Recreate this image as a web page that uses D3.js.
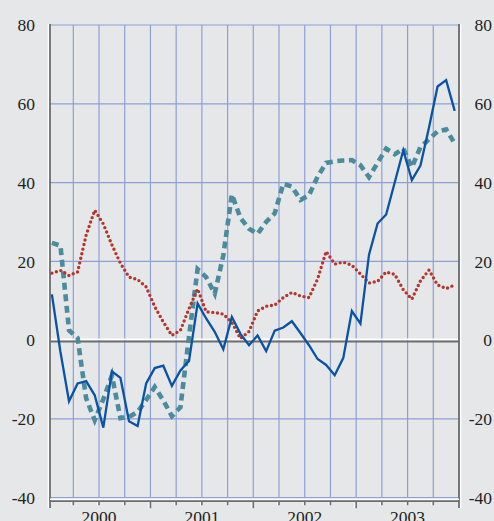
<!DOCTYPE html>
<html>
<head>
<meta charset="utf-8">
<script src="https://cdn.jsdelivr.net/npm/d3@7"></script>
<style>
  html, body { margin: 0; padding: 0; background: #e6e7e9; }
  svg { display: block; }
  text { font-family: "Liberation Serif", "DejaVu Serif", serif; fill: #231f20; }
</style>
</head>
<body>
<svg id="chart" width="494" height="521"></svg>
<script>
// ---- data (monthly, Jan 2000 .. Dec 2003) ----
const years = ["2000", "2001", "2002", "2003"];
const yTicks = [-40, -20, 0, 20, 40, 60, 80];

const blueSeries = [11.6, -3, -15.5, -11.0, -10.4, -14.0, -22.2, -7.9, -9.6, -20.6, -21.8, -11.0,
  -7.1, -6.5, -11.6, -7.7, -5.3, 9.3, 5.5, 2.1, -2.3, 5.9, 1.6, -1.3,
  1.2, -2.8, 2.4, 3.2, 4.8, 1.8, -1.3, -4.8, -6.3, -8.9, -4.5, 7.4,
  4.2, 21.7, 29.6, 31.9, 40, 48.2, 40.6, 44.3, 54, 64.4, 66, 58.2];

const tealSeries = [24.7, 24, 2.5, 0.5, -14.8, -20.3, -15, -9, -19.8, -19.5, -18.2, -15.2,
  -11.9, -15.3, -19.3, -17, 1, 18, 16, 11.8, 21.5, 37, 31, 28.3,
  27, 30, 32.2, 39.7, 39, 35.6, 36.8, 41.5, 45, 45.4, 45.6, 45.7,
  44.4, 41.4, 45, 48.6, 47.2, 48.6, 43.9, 49, 51, 53, 53.5, 49.9];

const redSeries = [17, 17.7, 16.4, 17.3, 26.7, 33, 29.5, 24.2, 19.5, 16, 15.4, 13.5,
  8.5, 4.6, 1.2, 2.5, 8, 13, 7.2, 7, 6.6, 4.5, 0.4, 2.2,
  7.4, 8.6, 8.9, 10.8, 12.1, 11.2, 10.8, 15.5, 22.5, 19.3, 19.8, 19,
  16.8, 14.5, 14.9, 17.3, 16.7, 12.8, 10.4, 15, 17.8, 14, 13.1, 14];

// ---- layout ----
const svg = d3.select("#chart");
const L = 50, R = 459, T = 25, B = 497.7;
const monthsTotal = years.length * 12;

// x in months since Jan 1 2000; the axis begins slightly after Jan 1
const x = d3.scaleLinear().domain([0.28, monthsTotal]).range([L, R]);
const y = d3.scaleLinear().domain([-40, 80]).range([B, T]);

const gridColor = "#8e9fd6";
const axisColor = "#6d6e71";

// vertical gridlines at quarter boundaries
const quarters = d3.range(1, monthsTotal / 3 + 1).map(k => k * 3);
svg.append("g").selectAll("line").data(quarters).join("line")
  .attr("x1", d => x(d)).attr("x2", d => x(d))
  .attr("y1", T).attr("y2", B)
  .attr("stroke", gridColor).attr("stroke-width", 1.2);

// horizontal gridlines
svg.append("g").selectAll("line").data(yTicks.filter(v => v !== 0)).join("line")
  .attr("x1", L).attr("x2", R)
  .attr("y1", d => y(d)).attr("y2", d => y(d))
  .attr("stroke", gridColor).attr("stroke-width", 1.2);

// zero line (embossed)
svg.append("line").attr("x1", L).attr("x2", R).attr("y1", y(0) - 0.8).attr("y2", y(0) - 0.8)
  .attr("stroke", "#ffffff").attr("stroke-width", 1.6);
svg.append("line").attr("x1", L).attr("x2", R).attr("y1", y(0) + 1.3).attr("y2", y(0) + 1.3)
  .attr("stroke", axisColor).attr("stroke-width", 2);

// left axis line (embossed)
svg.append("line").attr("x1", L - 1.6).attr("x2", L - 1.6).attr("y1", T - 1).attr("y2", 508)
  .attr("stroke", "#ffffff").attr("stroke-width", 1.4);
svg.append("line").attr("x1", L).attr("x2", L).attr("y1", T - 1).attr("y2", 508)
  .attr("stroke", axisColor).attr("stroke-width", 1.8);
// right axis line
svg.append("line").attr("x1", R + 1.6).attr("x2", R + 1.6).attr("y1", T - 1).attr("y2", 508)
  .attr("stroke", "#ffffff").attr("stroke-width", 1.4);
svg.append("line").attr("x1", R).attr("x2", R).attr("y1", T - 1).attr("y2", 508)
  .attr("stroke", axisColor).attr("stroke-width", 1.8);

// bottom axis line and ticks
const baseY = 501.2;
svg.append("line").attr("x1", L).attr("x2", R).attr("y1", baseY - 2).attr("y2", baseY - 2)
  .attr("stroke", "#ffffff").attr("stroke-width", 1.4);
svg.append("line").attr("x1", L).attr("x2", R).attr("y1", baseY).attr("y2", baseY)
  .attr("stroke", axisColor).attr("stroke-width", 1.8);
const tickG = svg.append("g");
tickG.selectAll("line.w").data(quarters.filter(q => q < monthsTotal)).join("line").attr("class", "w")
  .attr("x1", d => x(d) - 1.5).attr("x2", d => x(d) - 1.5)
  .attr("y1", baseY + 1).attr("y2", d => baseY + (d % 12 === 0 ? 7 : 4))
  .attr("stroke", "#ffffff").attr("stroke-width", 1.2);
tickG.selectAll("line.k").data(quarters.filter(q => q < monthsTotal)).join("line").attr("class", "k")
  .attr("x1", d => x(d)).attr("x2", d => x(d))
  .attr("y1", baseY).attr("y2", d => baseY + (d % 12 === 0 ? 7 : 4))
  .attr("stroke", axisColor).attr("stroke-width", 1.6);

// y axis labels via d3 axes (plain hyphen for negatives, as in the original)
const fmt = d => String(d);
const leftAxis = svg.append("g").attr("transform", `translate(${L},0)`)
  .call(d3.axisLeft(y).tickValues(yTicks).tickSize(0).tickPadding(15).tickFormat(fmt));
const rightAxis = svg.append("g").attr("transform", `translate(${R},0)`)
  .call(d3.axisRight(y).tickValues(yTicks).tickSize(0).tickPadding(33).tickFormat(fmt));
[leftAxis, rightAxis].forEach(g => {
  g.select(".domain").remove();
  g.selectAll("text")
    .attr("font-family", '"Liberation Serif", serif')
    .attr("font-size", 17.5)
    .attr("fill", "#231f20")
    .attr("dy", "0.33em");
});
rightAxis.selectAll("text").attr("text-anchor", "end");

// year labels (partly clipped by the bottom edge, as in the original)
svg.append("g").selectAll("text").data(years).join("text")
  .attr("x", (d, i) => x(i * 12 + 6))
  .attr("y", 523)
  .attr("text-anchor", "middle")
  .attr("font-size", 17.5)
  .text(d => d);

// ---- series ----
const line = d3.line().x((d, i) => x(i + 0.5)).y(d => y(d));

svg.append("path").datum(tealSeries).attr("d", line)
  .attr("fill", "none").attr("stroke", "#4b8b9b").attr("stroke-width", 4.6)
  .attr("stroke-dasharray", "7,4.6");

svg.append("path").datum(redSeries).attr("d", line)
  .attr("fill", "none").attr("stroke", "#b4352c").attr("stroke-width", 3.4)
  .attr("stroke-linecap", "round").attr("stroke-dasharray", "0,4.7");

svg.append("path").datum(blueSeries).attr("d", line)
  .attr("fill", "none").attr("stroke", "#0a52a3").attr("stroke-width", 2.3)
  .attr("stroke-linejoin", "miter");
</script>
</body>
</html>
